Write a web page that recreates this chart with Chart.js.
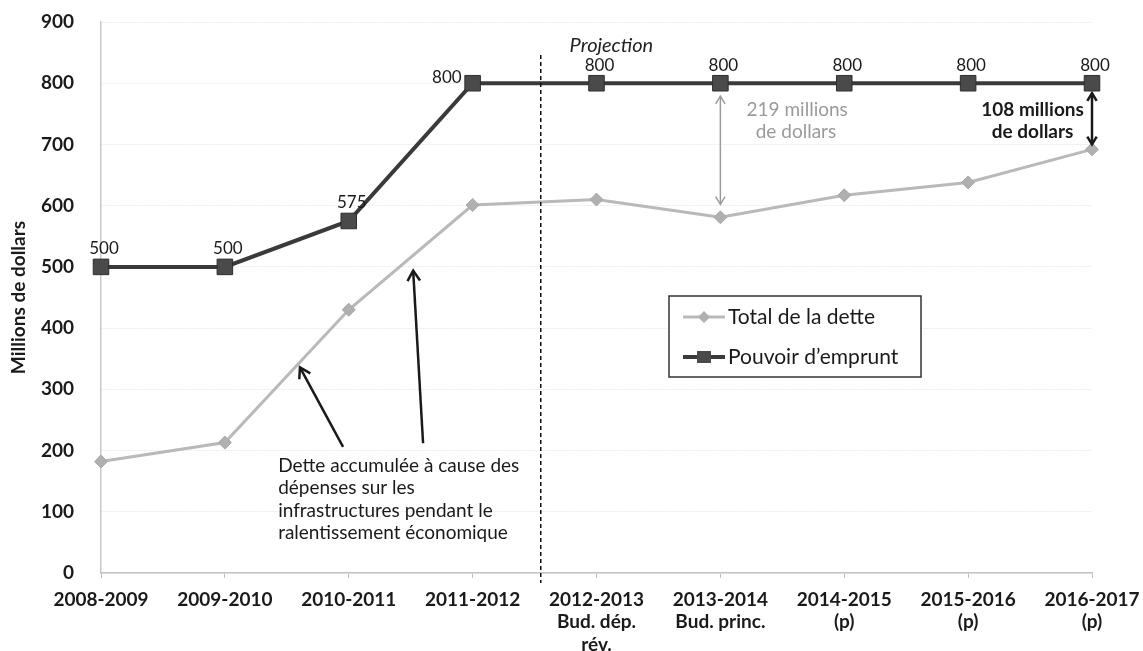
<!DOCTYPE html>
<html>
<head>
<meta charset="utf-8">
<script src="https://cdn.jsdelivr.net/npm/chart.js@4.4.1/dist/chart.umd.min.js"></script>
<style>
  html, body { margin: 0; padding: 0; background: #fff; }
  canvas { display: block; }
</style>
</head>
<body>
<canvas id="detteChart" width="1143" height="651"></canvas>
<script>
    // categories (exercices)
    const years = [
        ['2008-2009'],
        ['2009-2010'],
        ['2010-2011'],
        ['2011-2012'],
        ['2012-2013', 'Bud. dép.', 'rév.'],
        ['2013-2014', 'Bud. princ.'],
        ['2014-2015', '(p)'],
        ['2015-2016', '(p)'],
        ['2016-2017', '(p)'],
    ];
    const totalDette = [182, 213, 430, 601, 610, 581, 617, 638, 692];
    const pouvoirEmprunt = [500, 500, 575, 800, 800, 800, 800, 800, 800];
    const yTicks = [0, 100, 200, 300, 400, 500, 600, 700, 800, 900];

    const FONT = 'Lato, "Open Sans", sans-serif';
    const DARK = '#3a3a3a';
    const GREY = '#b9b9b9';

    function arrowHead(ctx, x1, y1, x2, y2, size) {
        const a = Math.atan2(y2 - y1, x2 - x1);
        ctx.beginPath();
        ctx.moveTo(x2 - size * Math.cos(a - 0.55), y2 - size * Math.sin(a - 0.55));
        ctx.lineTo(x2, y2);
        ctx.lineTo(x2 - size * Math.cos(a + 0.55), y2 - size * Math.sin(a + 0.55));
        ctx.stroke();
    }

    function arrow(ctx, x1, y1, x2, y2, size, both) {
        ctx.beginPath();
        ctx.moveTo(x1, y1);
        ctx.lineTo(x2, y2);
        ctx.stroke();
        arrowHead(ctx, x1, y1, x2, y2, size);
        if (both) arrowHead(ctx, x2, y2, x1, y1, size);
    }

    const annotations = {
        id: 'annotations',
        afterDraw: function (chart) {
            const ctx = chart.ctx;
            const x = chart.scales.x;
            const y = chart.scales.y;
            ctx.save();

            // ligne de projection
            ctx.strokeStyle = '#111';
            ctx.lineWidth = 1.5;
            ctx.setLineDash([4, 3]);
            ctx.beginPath();
            ctx.moveTo(x.getPixelForValue(3.55), y.getPixelForValue(846));
            ctx.lineTo(x.getPixelForValue(3.55), y.bottom + 10);
            ctx.stroke();
            ctx.setLineDash([]);

            ctx.fillStyle = '#222';
            ctx.font = 'italic 20px ' + FONT;
            ctx.textAlign = 'center';
            ctx.textBaseline = 'middle';
            ctx.fillText('Projection', x.getPixelForValue(4.12), y.getPixelForValue(862));

            // etiquettes du pouvoir d'emprunt
            ctx.font = '17px ' + FONT;
            ctx.fillStyle = '#1a1a1a';
            pouvoirEmprunt.forEach(function (v, i) {
                const px = x.getPixelForValue(i);
                const py = y.getPixelForValue(v);
                if (i === 3) {
                    ctx.textAlign = 'right';
                    ctx.fillText(String(v), px - 11, py - 6);
                } else {
                    ctx.textAlign = 'center';
                    ctx.fillText(String(v), px + 3, py - 18);
                }
            });

            // ecart 2013-2014
            ctx.strokeStyle = '#9a9a9a';
            ctx.lineWidth = 1.5;
            arrow(ctx, x.getPixelForValue(5), y.getPixelForValue(pouvoirEmprunt[5]) + 13,
                x.getPixelForValue(5), y.getPixelForValue(totalDette[5]) - 13, 9, true);
            ctx.fillStyle = '#9a9a9a';
            ctx.font = '19px ' + FONT;
            ctx.textAlign = 'center';
            ctx.fillText('219 millions', x.getPixelForValue(5.62), y.getPixelForValue(757));
            ctx.fillText('de dollars', x.getPixelForValue(5.61), y.getPixelForValue(721));

            // ecart 2016-2017
            ctx.strokeStyle = '#1a1a1a';
            ctx.lineWidth = 2.5;
            arrow(ctx, x.getPixelForValue(8), y.getPixelForValue(pouvoirEmprunt[8]) + 10,
                x.getPixelForValue(8), y.getPixelForValue(totalDette[8]) - 5, 9, true);
            ctx.fillStyle = '#1a1a1a';
            ctx.font = 'bold 19px ' + FONT;
            ctx.fillText('108 millions', x.getPixelForValue(7.52), y.getPixelForValue(757));
            ctx.fillText('de dollars', x.getPixelForValue(7.52), y.getPixelForValue(721));

            // fleches vers la dette
            ctx.lineWidth = 2.5;
            arrow(ctx, x.getPixelForValue(1.954), y.getPixelForValue(206),
                x.getPixelForValue(1.606), y.getPixelForValue(336), 12, false);
            arrow(ctx, x.getPixelForValue(2.6), y.getPixelForValue(212),
                x.getPixelForValue(2.52), y.getPixelForValue(494), 12, false);

            ctx.font = '19px ' + FONT;
            ctx.textAlign = 'left';
            const note = ['Dette accumulée à cause des', 'dépenses sur les',
                'infrastructures pendant le', 'ralentissement économique'];
            note.forEach(function (line, k) {
                ctx.fillText(line, x.getPixelForValue(1.43), y.getPixelForValue(175) + k * 22.5);
            });

            // legende
            const lx = 669, ly = 296, lw = 252, lh = 81;
            ctx.fillStyle = '#fff';
            ctx.fillRect(lx, ly, lw, lh);
            ctx.strokeStyle = '#333';
            ctx.lineWidth = 1.5;
            ctx.strokeRect(lx, ly, lw, lh);

            ctx.strokeStyle = GREY;
            ctx.lineWidth = 3;
            ctx.beginPath();
            ctx.moveTo(lx + 14, ly + 21);
            ctx.lineTo(lx + 56, ly + 21);
            ctx.stroke();
            ctx.fillStyle = '#b0b0b0';
            ctx.beginPath();
            ctx.moveTo(lx + 35, ly + 15);
            ctx.lineTo(lx + 41, ly + 21);
            ctx.lineTo(lx + 35, ly + 27);
            ctx.lineTo(lx + 29, ly + 21);
            ctx.closePath();
            ctx.fill();

            ctx.strokeStyle = DARK;
            ctx.lineWidth = 4;
            ctx.beginPath();
            ctx.moveTo(lx + 14, ly + 61);
            ctx.lineTo(lx + 56, ly + 61);
            ctx.stroke();
            ctx.fillStyle = '#4a4a4a';
            ctx.fillRect(lx + 28, ly + 55, 14, 12);

            ctx.fillStyle = '#1a1a1a';
            ctx.font = '21px ' + FONT;
            ctx.textAlign = 'left';
            ctx.fillText('Total de la dette', lx + 59, ly + 21);
            ctx.fillText('Pouvoir d\u2019emprunt', lx + 59, ly + 61);

            ctx.restore();
        }
    };

    const ctx = document.getElementById('detteChart').getContext('2d');
    const myChart = new Chart(ctx, {
        type: 'line',
        data: {
            labels: years,
            datasets: [
                {
                    label: 'Total de la dette',
                    data: totalDette,
                    borderColor: GREY,
                    borderWidth: 3,
                    pointStyle: 'rectRot',
                    pointRadius: 6.5,
                    pointBackgroundColor: '#b0b0b0',
                    pointBorderColor: '#a8a8a8',
                    pointBorderWidth: 1,
                    tension: 0,
                },
                {
                    label: 'Pouvoir d\u2019emprunt',
                    data: pouvoirEmprunt,
                    borderColor: DARK,
                    borderWidth: 4,
                    pointStyle: 'rect',
                    pointRadius: 11,
                    pointBackgroundColor: '#4a4a4a',
                    pointBorderColor: '#2e2e2e',
                    pointBorderWidth: 1,
                    tension: 0,
                },
            ],
        },
        options: {
            responsive: false,
            animation: false,
            devicePixelRatio: 1,
            layout: { padding: { top: 22, right: 51, left: 0, bottom: 0 } },
            plugins: {
                legend: { display: false },
                tooltip: { enabled: false },
            },
            scales: {
                x: {
                    offset: false,
                    grid: {
                        drawOnChartArea: false,
                        drawTicks: true,
                        tickLength: 5,
                        color: '#bdbdbd',
                    },
                    border: { color: '#c4c4c4', width: 1.5 },
                    ticks: {
                        color: '#1a1a1a',
                        font: { family: FONT, size: 19, weight: 'bold', lineHeight: 1.2 },
                        padding: 10,
                        maxRotation: 0,
                        autoSkip: false,
                    },
                    afterFit: function (scale) {
                        scale.height = 78;
                        scale.paddingLeft = 0;
                        scale.paddingRight = 0;
                    },
                },
                y: {
                    min: 0,
                    max: 900,
                    afterBuildTicks: function (scale) {
                        scale.ticks = yTicks.map(function (v) { return { value: v }; });
                    },
                    grid: { color: '#ececec', drawTicks: false, lineWidth: 1 },
                    border: { color: '#c8c8c8', width: 1.5, dash: [2, 1] },
                    ticks: {
                        color: '#1a1a1a',
                        font: { family: FONT, size: 19, weight: 'bold' },
                        padding: 27,
                    },
                    title: {
                        display: true,
                        text: 'Millions de dollars',
                        color: '#1a1a1a',
                        font: { family: FONT, size: 19, weight: 'bold' },
                        padding: { top: 7, bottom: 0 },
                    },
                    afterFit: function (scale) {
                        scale.width = 101;
                        scale.paddingTop = 0;
                        scale.paddingBottom = 0;
                    },
                },
            },
        },
        plugins: [annotations],
    });
</script>
</body>
</html>
